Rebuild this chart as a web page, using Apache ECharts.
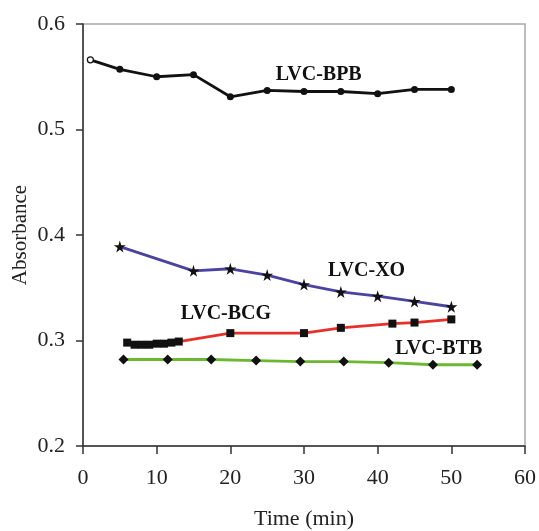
<!DOCTYPE html>
<html>
<head>
<meta charset="utf-8">
<script src="https://cdn.jsdelivr.net/npm/echarts@6/dist/echarts.min.js"></script>
<style>
  html, body { margin: 0; padding: 0; background: #ffffff; }
  #chart { width: 539px; height: 531px; }
</style>
</head>
<body>
<div id="chart"></div>
<script>
// Absorbance over time for the four LVC dye complexes
const xTicks = [0, 10, 20, 30, 40, 50, 60];
const yTicks = [0.2, 0.3, 0.4, 0.5, 0.6];

const bpbTime = [1, 5, 10, 15, 20, 25, 30, 35, 40, 45, 50];
const bpbAbs  = [0.566, 0.557, 0.550, 0.552, 0.531, 0.537, 0.536, 0.536, 0.534, 0.538, 0.538];

const xoTime = [5, 15, 20, 25, 30, 35, 40, 45, 50];
const xoAbs  = [0.389, 0.366, 0.368, 0.362, 0.353, 0.346, 0.342, 0.337, 0.332];

const bcgTime = [6, 7, 8, 9, 10, 11, 12, 13, 20, 30, 35, 42, 45, 50];
const bcgAbs  = [0.298, 0.296, 0.296, 0.296, 0.297, 0.297, 0.298, 0.299, 0.307, 0.307, 0.312, 0.316, 0.317, 0.320];

const btbTime = [5.5, 11.5, 17.4, 23.5, 29.5, 35.4, 41.5, 47.5, 53.5];
const btbAbs  = [0.282, 0.282, 0.282, 0.281, 0.280, 0.280, 0.279, 0.277, 0.277];

// Series names and where their captions sit, in data units
const seriesNames = ['LVC-BPB', 'LVC-XO', 'LVC-BCG', 'LVC-BTB'];
const captionAt = [[32.0, 0.552], [38.5, 0.366], [19.4, 0.325], [48.3, 0.292]];

const STAR = 'path://M50,0 L61,35 L98,35 L68,57 L79,91 L50,70 L21,91 L32,57 L2,35 L39,35 Z';
const DIAMOND = 'path://M0,-10 L10,0 L0,10 L-10,0 Z';

const serif = '"Liberation Serif", "Times New Roman", serif';

function pairs(xs, ys) {
  return xs.map((x, i) => [x, ys[i]]);
}

function caption(i) {
  return {
    silent: true,
    animation: false,
    data: [{
      coord: captionAt[i],
      symbol: 'rect',
      symbolSize: [1, 1],
      itemStyle: { color: 'rgba(0,0,0,0)' },
      label: {
        show: true,
        position: 'inside',
        formatter: seriesNames[i],
        color: '#111',
        fontFamily: serif,
        fontWeight: 'bold',
        fontSize: 20
      }
    }]
  };
}

// The first BPB reading is drawn as an open circle
const bpbData = pairs(bpbTime, bpbAbs).map((p, i) => i === 0
  ? { value: p, symbolSize: 6, itemStyle: { color: '#fff', borderColor: '#111', borderWidth: 1.2 } }
  : p);

const chart = echarts.init(document.getElementById('chart'), null, { renderer: 'canvas' });

const axisLabelStyle = { color: '#222', fontFamily: serif, fontSize: 22 };

chart.setOption({
  animation: false,
  backgroundColor: '#ffffff',
  grid: {
    left: 83, top: 24, right: 14, bottom: 85,
    containLabel: false,
    outerBoundsMode: 'none',
    show: true, borderColor: '#a8a8a8', borderWidth: 1.5, backgroundColor: 'transparent'
  },
  xAxis: {
    type: 'value',
    min: xTicks[0], max: xTicks[xTicks.length - 1], interval: 10,
    name: 'Time (min)',
    nameLocation: 'middle', nameGap: 62,
    nameMoveOverlap: false,
    nameTextStyle: { color: '#222', fontFamily: serif, fontSize: 22 },
    axisLine: { show: true, lineStyle: { color: '#333', width: 1.5 } },
    axisTick: { show: true, inside: false, length: 8, lineStyle: { color: '#333', width: 1.5 } },
    axisLabel: Object.assign({ margin: 21 }, axisLabelStyle),
    splitLine: { show: false }
  },
  yAxis: {
    type: 'value',
    min: yTicks[0], max: yTicks[yTicks.length - 1], interval: 0.1,
    name: 'Absorbance',
    nameLocation: 'middle', nameGap: 52,
    nameMoveOverlap: false,
    nameTextStyle: { color: '#222', fontFamily: serif, fontSize: 21 },
    axisLine: { show: true, lineStyle: { color: '#333', width: 1.5 } },
    axisTick: { show: true, inside: false, length: 7, lineStyle: { color: '#333', width: 1.5 } },
    axisLabel: Object.assign({ margin: 18, formatter: v => v.toFixed(1) }, axisLabelStyle),
    splitLine: { show: false }
  },
  series: [
    {
      name: seriesNames[0], type: 'line', data: bpbData,
      symbol: 'circle', symbolSize: 7,
      lineStyle: { color: '#111', width: 2.8 },
      itemStyle: { color: '#111' },
      markPoint: caption(0)
    },
    {
      name: seriesNames[1], type: 'line', data: pairs(xoTime, xoAbs),
      symbol: STAR, symbolSize: 12,
      lineStyle: { color: '#4a44a0', width: 2.8 },
      itemStyle: { color: '#111' },
      markPoint: caption(1)
    },
    {
      name: seriesNames[2], type: 'line', data: pairs(bcgTime, bcgAbs),
      symbol: 'rect', symbolSize: 8,
      lineStyle: { color: '#e8302a', width: 2.8 },
      itemStyle: { color: '#111' },
      markPoint: caption(2)
    },
    {
      name: seriesNames[3], type: 'line', data: pairs(btbTime, btbAbs),
      symbol: DIAMOND, symbolSize: 10,
      lineStyle: { color: '#6cb832', width: 2.8 },
      itemStyle: { color: '#111' },
      markPoint: caption(3)
    }
  ]
});
</script>
</body>
</html>
